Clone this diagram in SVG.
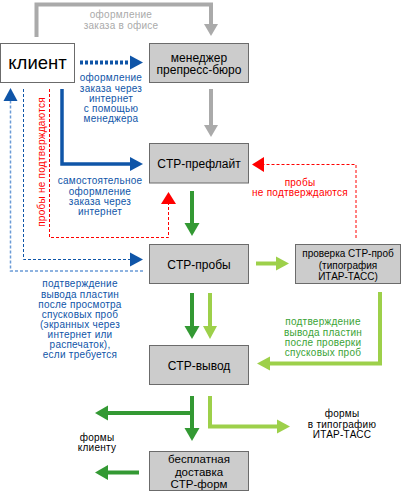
<svg xmlns="http://www.w3.org/2000/svg" width="402" height="492" viewBox="0 0 402 492">
<style>
text{font-family:"Liberation Sans",Arial,sans-serif;text-anchor:middle}
.box{fill:#cccccc;stroke:#6b6b6b;stroke-width:1}
.bt{font-size:12px;fill:#000}
.lb{font-size:10px;letter-spacing:0.25px}
.blue{fill:#0f55a8}
.gray{fill:#aaaaaa}
.red{fill:#ff0000}
.grn{fill:#3aa336}
.blk{fill:#000}
.c{fill:none;stroke-linejoin:miter}
</style>
<defs>
<marker id="hGray" markerUnits="userSpaceOnUse" viewBox="0 -8 14 16" refX="0" refY="0" markerWidth="14" markerHeight="16" orient="auto"><path d="M0,-7 L12,0 L0,7 z" fill="#aaaaaa"/></marker>
<marker id="hBlue" markerUnits="userSpaceOnUse" viewBox="0 -8 14 16" refX="0" refY="0" markerWidth="14" markerHeight="16" orient="auto"><path d="M0,-7 L13,0 L0,7 z" fill="#0f55a8"/></marker>
<marker id="hRed" markerUnits="userSpaceOnUse" viewBox="0 -8 14 16" refX="0" refY="0" markerWidth="14" markerHeight="16" orient="auto"><path d="M0,-7.5 L12,0 L0,7.5 z" fill="#ff0000"/></marker>
<marker id="hDg" markerUnits="userSpaceOnUse" viewBox="0 -8 14 16" refX="0" refY="0" markerWidth="14" markerHeight="16" orient="auto"><path d="M0,-7.5 L13,0 L0,7.5 z" fill="#339933"/></marker>
<marker id="hLg" markerUnits="userSpaceOnUse" viewBox="0 -8 14 16" refX="0" refY="0" markerWidth="14" markerHeight="16" orient="auto"><path d="M0,-7 L13,0 L0,7 z" fill="#9dd04a"/></marker>
</defs>

<g id="connectors">
  <path class="c" d="M36.5,37 V4.5 H211 V24" stroke="#aaaaaa" stroke-width="4" marker-end="url(#hGray)"/>
  <path class="c" d="M211,89 V125" stroke="#aaaaaa" stroke-width="4" marker-end="url(#hGray)"/>
  <path class="c" d="M80,62.5 H130" stroke="#0f55a8" stroke-width="4" stroke-dasharray="3,2" marker-end="url(#hBlue)"/>
  <path class="c" d="M62,89 V164 H130" stroke="#0f55a8" stroke-width="3.5" marker-end="url(#hBlue)"/>
  <path class="c" d="M49.5,89 V237.5 H168.5 V204" stroke="#ff0000" stroke-width="1" stroke-dasharray="3,2" marker-end="url(#hRed)"/>
  <path class="c" d="M23.5,89 V259.5 H130" stroke="#0f55a8" stroke-width="1" stroke-dasharray="3,2" marker-end="url(#hBlue)"/>
  <path class="c" d="M143,271 H10.5 V101" stroke="#6a9ad6" stroke-width="1.5" stroke-dasharray="3,2" marker-end="url(#hBlue)"/>
  <path class="c" d="M192,191 V223" stroke="#339933" stroke-width="4" marker-end="url(#hDg)"/>
  <path class="c" d="M256,263.5 H276" stroke="#9dd04a" stroke-width="4" marker-end="url(#hLg)"/>
  <path class="c" d="M356,238 V164.5 H264" stroke="#ff0000" stroke-width="1" stroke-dasharray="3,2" marker-end="url(#hRed)"/>
  <path class="c" d="M192,293 V326" stroke="#339933" stroke-width="4" marker-end="url(#hDg)"/>
  <path class="c" d="M210,293 V326" stroke="#9dd04a" stroke-width="4" marker-end="url(#hLg)"/>
  <path class="c" d="M380,292 V363.5 H270" stroke="#9dd04a" stroke-width="4" marker-end="url(#hLg)"/>
  <path class="c" d="M192,396 V428" stroke="#339933" stroke-width="4" marker-end="url(#hDg)"/>
  <path class="c" d="M192,413 H108" stroke="#339933" stroke-width="4" marker-end="url(#hDg)"/>
  <path class="c" d="M210,396 V426.5 H277" stroke="#9dd04a" stroke-width="4" marker-end="url(#hLg)"/>
  <path class="c" d="M139,472.5 H108" stroke="#339933" stroke-width="4" marker-end="url(#hDg)"/>
</g>

<g id="client">
  <rect x="0.5" y="43.5" width="74" height="39" fill="#ffffff" stroke="#6b6b6b" stroke-width="1"/>
  <text x="37.5" y="69" font-size="18.5" fill="#000">клиент</text>
</g>
<g id="manager">
  <rect class="box" x="149.5" y="43.5" width="99" height="39"/>
  <text class="bt" x="199" y="61.5">менеджер</text>
  <text class="bt" x="199" y="74">препресс-бюро</text>
</g>
<g id="preflight">
  <rect class="box" x="149.5" y="143.5" width="99" height="39.5"/>
  <text class="bt" x="199" y="167.5">CTP-префлайт</text>
</g>
<g id="proofs">
  <rect class="box" x="149.5" y="244.5" width="99" height="39"/>
  <text class="bt" x="199" y="268.5">CTP-пробы</text>
</g>
<g id="check">
  <rect class="box" x="295.5" y="244.5" width="105" height="39"/>
  <text x="348" y="256.5" font-size="10" fill="#000">проверка CTP-проб</text>
  <text x="348" y="269" font-size="10" fill="#000">(типография</text>
  <text x="348" y="280" font-size="10" fill="#000">ИТАР-ТАСС)</text>
</g>
<g id="output">
  <rect class="box" x="149.5" y="345.5" width="99" height="39"/>
  <text class="bt" x="199" y="369.5">CTP-вывод</text>
</g>
<g id="delivery">
  <rect class="box" x="149.5" y="451.5" width="99" height="39"/>
  <text x="199" y="463" font-size="11.5" fill="#000">бесплатная</text>
  <text x="199" y="475.5" font-size="11.5" fill="#000">доставка</text>
  <text x="199" y="488" font-size="11.5" fill="#000">CTP-форм</text>
</g>

<g id="labels">
  <text class="lb gray" x="121" y="18">оформление</text>
  <text class="lb gray" x="121" y="28.5">заказа в офисе</text>

  <text class="lb blue" x="111" y="81">оформление</text>
  <text class="lb blue" x="111" y="91.5">заказа через</text>
  <text class="lb blue" x="111" y="101.5">интернет</text>
  <text class="lb blue" x="111" y="111.5">с помощью</text>
  <text class="lb blue" x="111" y="121.5">менеджера</text>

  <text class="lb blue" x="100" y="184">самостоятельное</text>
  <text class="lb blue" x="100" y="194.5">оформление</text>
  <text class="lb blue" x="100" y="204.5">заказа через</text>
  <text class="lb blue" x="100" y="215">интернет</text>

  <text class="lb red" transform="translate(44.5,162) rotate(-90)" x="0" y="0" font-size="10.5">пробы не подтверждаются</text>

  <text class="lb red" x="300" y="186">пробы</text>
  <text class="lb red" x="300" y="195.5">не подтверждаются</text>

  <text class="lb blue" x="80" y="287">подтверждение</text>
  <text class="lb blue" x="80" y="297.5">вывода пластин</text>
  <text class="lb blue" x="80" y="307.5">после просмотра</text>
  <text class="lb blue" x="80" y="317.5">спусковых проб</text>
  <text class="lb blue" x="80" y="327.5">(экранных через</text>
  <text class="lb blue" x="80" y="337.5">интернет или</text>
  <text class="lb blue" x="80" y="347.5">распечаток),</text>
  <text class="lb blue" x="80" y="357.5">если требуется</text>

  <text class="lb grn" x="323" y="325">подтверждение</text>
  <text class="lb grn" x="323" y="335.5">вывода пластин</text>
  <text class="lb grn" x="323" y="345.5">после проверки</text>
  <text class="lb grn" x="323" y="355.5">спусковых проб</text>

  <text class="lb blk" x="342" y="417">формы</text>
  <text class="lb blk" x="342" y="427.5">в типографию</text>
  <text class="lb blk" x="342" y="438">ИТАР-ТАСС</text>

  <text class="lb blk" x="97" y="441">формы</text>
  <text class="lb blk" x="97" y="451">клиенту</text>
</g>
</svg>
